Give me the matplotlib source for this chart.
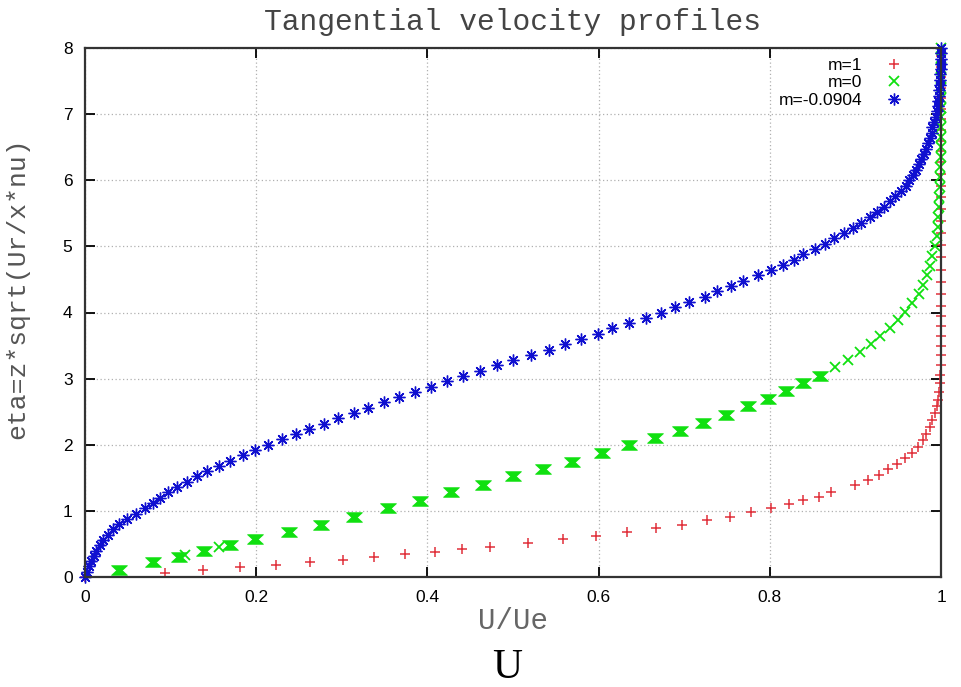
import matplotlib.pyplot as plt
from matplotlib.path import Path

# m = 1  (red +)
eta_m1 = [0.00, 0.06, 0.10, 0.15, 0.18, 0.23, 0.26, 0.30, 0.35, 0.38, 0.42, 0.45, 0.51, 0.57,
          0.62, 0.68, 0.74, 0.79, 0.86, 0.91, 0.99, 1.04, 1.10, 1.16, 1.21, 1.28, 1.39, 1.47,
          1.55, 1.63, 1.71, 1.80, 1.88, 1.97, 2.07, 2.17, 2.27, 2.38, 2.48, 2.58, 2.68, 2.80,
          2.93, 3.05, 3.20, 3.35, 3.50, 3.65, 3.80, 3.95, 4.10, 4.28, 4.46, 4.64, 4.84, 5.02,
          5.20, 5.38, 5.56, 5.74, 5.92, 6.10, 6.28, 6.44, 6.60, 6.76, 6.92, 7.08, 7.24, 7.40,
          7.56, 7.72, 7.88]
u_m1 = [0.000, 0.093, 0.138, 0.181, 0.223, 0.263, 0.301, 0.338, 0.374, 0.409, 0.441, 0.473, 0.517, 0.558,
        0.597, 0.633, 0.667, 0.698, 0.727, 0.753, 0.778, 0.801, 0.822, 0.839, 0.857, 0.872, 0.900, 0.915,
        0.928, 0.938, 0.949, 0.958, 0.966, 0.973, 0.979, 0.983, 0.987, 0.990, 0.993, 0.995, 0.997, 0.998,
        0.999, 0.999, 1.000, 1.000, 1.000, 1.000, 1.000, 1.000, 1.000, 1.000, 1.000, 1.000, 1.000, 1.000,
        1.000, 1.000, 1.000, 1.000, 1.000, 1.000, 1.000, 1.000, 1.000, 1.000, 1.000, 1.000, 1.000, 1.000,
        1.000, 1.000, 1.000]

# m = 0  (green x), heavy markers in the lower part
eta_m0_bold = [0.11, 0.22, 0.31, 0.40, 0.48, 0.58, 0.68, 0.79, 0.91, 1.04, 1.15, 1.28, 1.39, 1.52,
               1.63, 1.74, 1.87, 1.99, 2.10, 2.21, 2.33, 2.45, 2.58, 2.69, 2.82, 2.93, 3.04]
u_m0_bold = [0.040, 0.080, 0.110, 0.139, 0.169, 0.199, 0.238, 0.276, 0.314, 0.354, 0.391, 0.428, 0.465, 0.500,
             0.535, 0.569, 0.604, 0.635, 0.666, 0.695, 0.722, 0.749, 0.774, 0.798, 0.819, 0.839, 0.859]
eta_m0 = [0.33, 0.46, 3.17, 3.28, 3.40, 3.52, 3.64, 3.76, 3.89, 4.01, 4.14, 4.28, 4.42, 4.56, 4.70,
          4.85, 5.00, 5.15, 5.30, 5.45, 5.60, 5.75, 5.90, 6.05, 6.20, 6.35, 6.50, 6.65, 6.80, 6.95,
          7.10, 7.25, 7.40, 7.55, 7.70, 7.85, 8.00]
u_m0 = [0.117, 0.157, 0.876, 0.891, 0.905, 0.918, 0.929, 0.940, 0.950, 0.958, 0.966, 0.974, 0.979, 0.984, 0.987,
        0.990, 0.993, 0.995, 0.996, 0.997, 0.998, 0.998, 0.999, 0.999, 0.999, 1.000, 1.000, 1.000, 1.000, 1.000,
        1.000, 1.000, 1.000, 1.000, 1.000, 1.000, 1.000]

# m = -0.0904  (blue *)
eta_sep = [0.00, 0.08, 0.16, 0.24, 0.32, 0.40, 0.48, 0.56, 0.64, 0.72, 0.80, 0.88, 0.96, 1.04, 1.12,
           1.20, 1.28, 1.36, 1.44, 1.52, 1.60, 1.68, 1.76, 1.84, 1.92, 2.00, 2.08, 2.16, 2.24, 2.32,
           2.40, 2.48, 2.56, 2.64, 2.72, 2.80, 2.88, 2.96, 3.04, 3.12, 3.20, 3.28, 3.36, 3.44, 3.52,
           3.60, 3.68, 3.76, 3.84, 3.92, 4.00, 4.08, 4.16, 4.24, 4.32, 4.40, 4.48, 4.56, 4.64, 4.72,
           4.80, 4.88, 4.96, 5.04, 5.12, 5.20, 5.28, 5.36, 5.44, 5.52, 5.60, 5.68, 5.76, 5.84, 5.92,
           6.00, 6.08, 6.16, 6.24, 6.32, 6.40, 6.48, 6.56, 6.64, 6.72, 6.80, 6.88, 6.96, 7.04, 7.12,
           7.20, 7.28, 7.36, 7.44, 7.52, 7.60, 7.68, 7.76, 7.84, 7.92, 8.00]
u_sep = [0.000, 0.002, 0.005, 0.007, 0.010, 0.013, 0.017, 0.021, 0.027, 0.033, 0.040, 0.049, 0.060, 0.070, 0.080,
         0.088, 0.097, 0.108, 0.119, 0.131, 0.143, 0.156, 0.169, 0.184, 0.199, 0.214, 0.230, 0.246, 0.262, 0.279,
         0.296, 0.314, 0.331, 0.349, 0.367, 0.386, 0.404, 0.423, 0.442, 0.461, 0.481, 0.500, 0.521, 0.542, 0.561,
         0.580, 0.599, 0.616, 0.636, 0.655, 0.673, 0.689, 0.706, 0.724, 0.738, 0.755, 0.769, 0.786, 0.801, 0.815,
         0.828, 0.839, 0.853, 0.865, 0.875, 0.887, 0.897, 0.906, 0.917, 0.925, 0.933, 0.940, 0.946, 0.953, 0.959,
         0.963, 0.967, 0.971, 0.974, 0.977, 0.980, 0.982, 0.985, 0.987, 0.989, 0.990, 0.992, 0.994, 0.995, 0.996,
         0.997, 0.998, 0.998, 0.999, 0.999, 0.999, 1.000, 1.000, 1.000, 1.000, 1.000]

labels = ['m=1', 'm=0', 'm=-0.0904']
colors = ['#e0303a', '#10e010', '#1010d0']

mono = 'Liberation Mono'
sans = 'Liberation Sans'

bowtie = Path([(-1, 0.6), (1, 0.6), (0.35, 0), (1, -0.6), (-1, -0.6), (-0.35, 0), (-1, 0.6)],
              [Path.MOVETO] + [Path.LINETO] * 5 + [Path.CLOSEPOLY])

fig = plt.figure(figsize=(9.61, 6.87), dpi=100)
ax = fig.add_axes([85 / 961, 1 - 577 / 687, 856 / 961, 529 / 687])

ax.plot(u_m1, eta_m1, ls='none', marker='+', ms=7, mew=1.1, color=colors[0], label=labels[0], clip_on=False)
ax.plot(u_m0_bold, eta_m0_bold, ls='none', marker=bowtie, ms=11.5, mew=0.5, color=colors[1], clip_on=False)
ax.plot(u_m0, eta_m0, ls='none', marker='x', ms=6.5, mew=1.3, color=colors[1], label=labels[1], clip_on=False)
ax.plot(u_sep, eta_sep, ls='none', marker=(8, 2, 0), ms=8.5, mew=1.0, color=colors[2], label=labels[2], clip_on=False)

ax.set_xlim(0, 1)
ax.set_ylim(0, 8)
ax.set_xticks([0, 0.2, 0.4, 0.6, 0.8, 1])
ax.set_xticklabels(['0', '0.2', '0.4', '0.6', '0.8', '1'])
ax.set_yticks(range(9))

ax.grid(True, ls=(0, (1, 2)), color='#b0b0b0', lw=0.9)
ax.tick_params(direction='in', length=7, width=1.3, top=True, right=True, pad=9, labelsize=12.5)
for lab in ax.get_xticklabels() + ax.get_yticklabels():
    lab.set_family(sans)
for s in ax.spines.values():
    s.set_linewidth(1.6)
    s.set_color('#333333')

ax.set_title('Tangential velocity profiles', family=mono, fontsize=21.3, color='#444444', pad=13)
ax.set_xlabel('U/Ue', family=mono, fontsize=21, color='#666666')
ax.xaxis.label.set_va('center')
ax.xaxis.set_label_coords(0.5, -0.083)
ax.set_ylabel('eta=z*sqrt(Ur/x*nu)', family=mono, fontsize=19, color='#555555')
ax.yaxis.label.set_va('center')
ax.yaxis.set_label_coords(-0.079, 0.546)

leg = ax.legend(loc='upper right', bbox_to_anchor=(0.965, 0.982), markerfirst=False, frameon=False,
                prop={'family': sans, 'size': 12.5}, labelspacing=0.15, handlelength=2.0,
                handletextpad=0.8, borderpad=0, borderaxespad=0)

fig.text(507 / 961, 1 - 668 / 687, 'U', family='Liberation Serif', fontsize=30, ha='center', va='center')

fig.savefig('out.png', dpi=100)
